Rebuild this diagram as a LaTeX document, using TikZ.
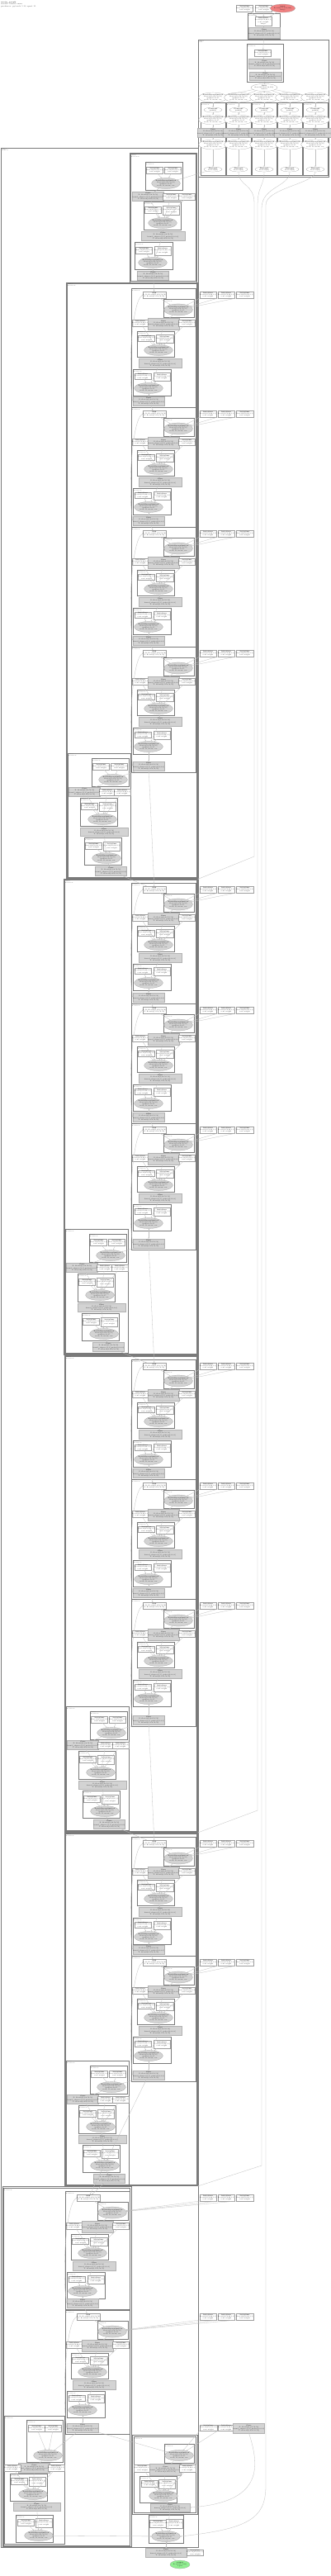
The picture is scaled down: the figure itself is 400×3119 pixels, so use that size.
\documentclass[tikz,border=0pt]{standalone}
\usepackage{fontspec}
\usetikzlibrary{shapes.geometric,arrows.meta}
\definecolor{lcoral}{RGB}{240,128,128}
\definecolor{lgreen}{RGB}{144,238,144}
\definecolor{ngray}{RGB}{211,211,211}
\tikzset{
 every node/.style={inner sep=0pt,outer sep=0pt,align=center,font=\fontsize{1.85}{2.25}\selectfont,text=black!85},
 wn/.style={draw=black!38,line width=0.2pt,fill=white,rectangle},
 gn/.style={draw=black!30,line width=0.2pt,fill=ngray,rectangle},
 ge/.style={draw=black!40,line width=0.2pt,fill=ngray,ellipse},
 we/.style={draw=black!40,line width=0.2pt,fill=white,ellipse},
 re/.style={draw=black!40,line width=0.2pt,fill=lcoral,ellipse},
 gre/.style={draw=black!40,line width=0.2pt,fill=lgreen,ellipse},
 clu/.style={draw=black!52,line width=0.45pt},
 lbl/.style={font=\fontsize{1.5}{1.9}\selectfont,align=left,text=black!70},
 ed/.style={draw=black!25,line width=0.3pt,-{Stealth[length=1.5pt,width=1.3pt]}},
}
\def\TW{\textbf{Initializer}\\ float32[256,64,1,1]\\ conv.weight}
\def\TG{\textbf{Conv}\\ X: float32[1,64,56,56]\\ kernel\_shape=[1,1] pads=[0,0,0,0]\\ Y: float32[1,256,56,56]}
\def\TE{\textbf{BatchNormalization}\\ float32[1,256,56,56]\\ epsilon=1e-05\\ scale, B, mean, var}
\def\TA{\textbf{Add}\\ A, B: float32[1,256,56,56]\\ C: float32[1,256,56,56]}
\def\TL{cluster\\ Bottleneck}
\newcommand\ND[7]{\node[#1,minimum width={(#5)*1pt-(#3)*1pt},minimum height={(#6)*1pt-(#4)*1pt}] (#2) at ({((#3)+(#5))/2},{((#4)+(#6))/2}) {#7};}
\newcommand\NE[7]{\node[#1,minimum width=#5pt,minimum height=#6pt] (#2) at (#3,#4) {#7};}
\newcommand\CL[5]{\draw[clu] (#1,#2) rectangle (#3,#4); \node[lbl,anchor=north west] at (#1+0.8,#2+0.6) {#5};}
\newcommand\SB[4]{\draw[clu] (#1,#2) rectangle (#3,#4); \draw[clu] (#1+1.2,#2+1.2) rectangle (#3-1.2,#4-1.2); \node[lbl,anchor=north west] at (#1+2,#2+1.8) {\TL};}
\newcommand\RBlock[4]{%
\begin{scope}[shift={(#2,#3)}]
\CL{159}{0}{237}{#4}{\TL}
\ND{wn}{#1T}{178}{4}{196}{12}{\TA}
\CL{198}{13}{235}{35}{\TL}
\NE{ge}{#1E1}{216}{26}{32}{14}{\TE}
\ND{wn}{#1W1}{162}{38}{178}{46}{\TW}
\ND{gn}{#1G1}{180}{36}{216}{50}{\TG}
\ND{wn}{#1W2}{218}{38}{235}{46}{\TW}
\CL{166}{52}{211}{83}{\TL}
\ND{wn}{#1W3}{168}{57}{187}{64}{\TW}
\ND{wn}{#1W4}{189}{56}{210}{66}{\TW}
\NE{ge}{#1E2}{192}{75}{34}{13}{\TE}
\ND{gn}{#1G2}{168}{85}{220}{96}{\TG}
\CL{161}{98}{207}{130}{\TL}
\ND{wn}{#1W5}{163}{103}{183}{110}{\TW}
\ND{wn}{#1W6}{186}{102}{206}{112}{\TW}
\NE{ge}{#1E3}{180}{121}{34}{13}{\TE}
\ND{gn}{#1G3}{162}{#4-13}{198}{#4-2}{\TG}
\end{scope}
\draw[ed] (#1T) -- (#1E1);
\draw[ed] (#1E1) -- (#1G1);
\draw[ed] (#1G1) -- (#1E2);
\draw[ed] (#1W1) -- (#1E2);
\draw[ed] (#1W2) -- (#1E2);
\draw[ed] (#1W3) -- (#1E2);
\draw[ed] (#1W4) -- (#1E2);
\draw[ed] (#1E2) -- (#1G2);
\draw[ed] (#1G2) -- (#1E3);
\draw[ed] (#1W5) -- (#1E3);
\draw[ed] (#1W6) -- (#1E3);
\draw[ed] (#1E3) -- (#1G3);
\draw[ed] (#1T.west) .. controls +(-14,6) and +(-6,-30) .. (#1G3.west);
}
\newcommand\Ext[2]{%
\ND{wn}{#1x1}{242}{#2+4}{262}{#2+12}{\TW}
\ND{wn}{#1x2}{264}{#2+4}{284}{#2+12}{\TW}
\ND{wn}{#1x3}{286}{#2+4}{307}{#2+12}{\TW}
\draw[ed] (#1x1.south west) -- (#1E1);
\draw[ed] (#1x2.south west) -- (#1E1);
\draw[ed] (#1x3.south west) -- (#1E1);}
\newcommand\DBlock[3]{%
\begin{scope}[shift={(#2,#3)}]
\CL{0}{0}{76}{150}{\TL}
\CL{29}{6}{74}{40}{\TL}
\ND{wn}{#1W1}{31}{12}{50}{20}{\TW}
\ND{wn}{#1W2}{53}{12}{72}{20}{\TW}
\NE{ge}{#1E1}{55}{32}{31}{13}{\TE}
\ND{gn}{#1G1}{3}{41}{38}{52}{\TG}
\ND{wn}{#1W3}{40}{43}{56}{51}{\TW}
\ND{wn}{#1W4}{58}{43}{74}{51}{\TW}
\CL{15}{54}{60}{88}{\TL}
\ND{wn}{#1W5}{17}{60}{36}{68}{\TW}
\ND{wn}{#1W6}{39}{59}{58}{70}{\TW}
\NE{ge}{#1E2}{42}{80}{33}{13}{\TE}
\ND{gn}{#1G2}{15}{90}{73}{100}{\TG}
\CL{20}{102}{65}{135}{\TL}
\ND{wn}{#1W7}{22}{108}{41}{116}{\TW}
\ND{wn}{#1W8}{44}{107}{63}{118}{\TW}
\NE{ge}{#1E3}{47}{127}{32}{13}{\TE}
\ND{gn}{#1G3}{35}{137}{70}{148}{\TG}
\end{scope}
\draw[ed] (#1W1) -- (#1E1);
\draw[ed] (#1W2) -- (#1E1);
\draw[ed] (#1E1) -- (#1G1);
\draw[ed] (#1G1) -- (#1E2);
\draw[ed] (#1W3) -- (#1E2);
\draw[ed] (#1W4) -- (#1E2);
\draw[ed] (#1W5) -- (#1E2);
\draw[ed] (#1W6) -- (#1E2);
\draw[ed] (#1E2) -- (#1G2);
\draw[ed] (#1G2) -- (#1E3);
\draw[ed] (#1W7) -- (#1E3);
\draw[ed] (#1W8) -- (#1E3);
\draw[ed] (#1E3) -- (#1G3);
}
\newcommand\Col[2]{%
\CL{#2-15}{124}{#2+15}{212}{\TL}
\NE{we}{#1a}{#2}{133}{22}{6}{\textbf{Constant}\\ int64[4]}
\NE{we}{#1b}{#2}{145}{25}{11}{\TE}
\ND{gn}{#1c}{#2-14}{155}{#2+14}{166}{\TG}
\NE{we}{#1d}{#2}{175}{25}{11}{\TE}
\NE{we}{#1e}{#2}{205}{22}{6}{\textbf{Reshape}\\ float32[64]}
\draw[ed] (#1a) -- (#1b);
\draw[ed] (#1b) -- (#1c);
\draw[ed] (#1c) -- (#1d);
\draw[ed] (#1d) -- (#1e);
}
\begin{document}
\begin{tikzpicture}[x=1pt,y=-1pt]
\useasboundingbox (0,0) rectangle (400,3119);
\fill[white] (0,0) rectangle (400,3119);
\node[lbl,anchor=north west,font=\fontsize{2.2}{2.8}\selectfont] (title) at (1.5,1.5) {\textbf{main\_graph}\\ model: resnet.onnx\\ producer: pytorch 1.13 opset 11};
% ---------- top ----------
\ND{wn}{t1}{287}{6}{306}{14}{\TW}
\ND{wn}{t2}{310}{6}{329}{14}{\TW}
\NE{re}{inp}{342.5}{10}{25}{10}{\textbf{input}\\ float32[1,3,224,224]\\ image}
\CL{300}{16}{339}{47}{\TL}
\ND{wn}{tw}{309}{20}{329}{31}{\TW\\ shape}
\ND{gn}{tg}{302}{33}{338}{46}{\TG}
\draw[ed] (t1) -- (tw);
\draw[ed] (t2) -- (tw);
\draw[ed] (inp) -- (tw);
\draw[ed] (tw) -- (tg);
\draw[clu,line width=0.6pt] (240,48) rectangle (398,214);
\node[lbl,anchor=north west] at (241,49) {cluster\\ stem};
\CL{299}{53}{343}{99}{\TL}
\ND{wn}{iw}{310}{60}{327}{68}{\TW}
\ND{gn}{ig1}{308}{71}{333}{83}{\TG}
\ND{gn}{ig2}{302}{87}{341}{97}{\TG}
\NE{we}{top}{320}{106}{26}{9}{\textbf{Split}\\ float32[1,64,112,112]\\ axis=0}
\draw[ed] (tg) -- (iw);
\draw[ed] (iw) -- (ig1);
\draw[ed] (ig1) -- (ig2);
\draw[ed] (ig2) -- (top);
\NE{we}{p1}{258}{118}{26}{8}{\TE}
\NE{we}{p2}{289}{118}{26}{8}{\TE}
\NE{we}{p3}{320}{118}{26}{8}{\TE}
\NE{we}{p4}{351}{118}{26}{8}{\TE}
\NE{we}{p5}{382}{118}{26}{8}{\TE}
\Col{k1}{258}
\Col{k2}{289}
\Col{k3}{320}
\Col{k4}{351}
\Col{k5}{382}
\foreach \i in {1,...,5}{\draw[ed] (top) -- (p\i); \draw[ed] (p\i) -- (k\i a);}
% ---------- big left box ----------
\draw[clu,line width=0.6pt] (1,179) rectangle (240.5,3084);
\node[lbl,anchor=north west] at (2,180) {cluster\\ backbone};
% box A
\draw[clu] (157,185) rectangle (238.5,341.8);
\draw[clu] (158.5,186.5) rectangle (237,340.3);
\node[lbl,anchor=north west] at (159.2,187.2) {\TL};
\CL{176}{196}{221}{230}{\TL}
\ND{wn}{AW1}{178}{202}{197}{210}{\TW}
\ND{wn}{AW2}{200}{202}{219}{210}{\TW}
\NE{ge}{AE1}{201}{222}{31}{13}{\TE}
\ND{gn}{AG1}{162}{232}{197}{243}{\TG}
\ND{wn}{AW3}{199}{234}{216}{242}{\TW}
\ND{wn}{AW4}{218}{234}{235}{242}{\TW}
\CL{174}{244}{219}{278}{\TL}
\ND{wn}{AW5}{176}{250}{195}{258}{\TW}
\ND{wn}{AW6}{198}{249}{217}{260}{\TW}
\NE{ge}{AE2}{197}{270}{33}{13}{\TE}
\ND{gn}{AG2}{171}{280}{224}{291}{\TG}
\CL{163}{293}{209}{326}{\TL}
\ND{wn}{AW7}{165}{299}{184}{307}{\TW}
\ND{wn}{AW8}{187}{298}{207}{309}{\TW}
\NE{ge}{AE3}{185}{318}{32}{13}{\TE}
\ND{gn}{AG3}{168}{328}{203}{339}{\TG}
\draw[ed] (AW1) -- (AE1); \draw[ed] (AW2) -- (AE1); \draw[ed] (AE1) -- (AG1);
\draw[ed] (AG1) -- (AE2); \draw[ed] (AW3) -- (AE2); \draw[ed] (AW4) -- (AE2);
\draw[ed] (AW5) -- (AE2); \draw[ed] (AW6) -- (AE2); \draw[ed] (AE2) -- (AG2);
\draw[ed] (AG2) -- (AE3); \draw[ed] (AW7) -- (AE3); \draw[ed] (AW8) -- (AE3);
\draw[ed] (AE3) -- (AG3);
% stage boxes
\SB{80}{342}{239.5}{1063.5}
\SB{77}{1064.5}{239.5}{1640}
\SB{78}{1641}{239.5}{2218}
\SB{78}{2219}{239.5}{2646.5}
\SB{3}{2647.5}{158.8}{3083}
% stage B
\RBlock{b1}{0}{349}{144} \Ext{b1}{349}
\RBlock{b2}{0}{493}{145} \Ext{b2}{493}
\RBlock{b3}{0}{638}{145} \Ext{b3}{638}
\RBlock{b4}{0}{783}{152} \Ext{b4}{783}
\DBlock{sB}{82}{912}
% stage C
\RBlock{c1}{0}{1069}{146} \Ext{c1}{1069}
\RBlock{c2}{0}{1215}{145} \Ext{c2}{1215}
\RBlock{c3}{0}{1360}{153} \Ext{c3}{1360}
\DBlock{sC}{79}{1488}
% stage D
\RBlock{d1}{0}{1646}{145} \Ext{d1}{1646}
\RBlock{d2}{0}{1791}{145} \Ext{d2}{1791}
\RBlock{d3}{0}{1936}{154} \Ext{d3}{1936}
\DBlock{sD}{80}{2066}
% stage E
\RBlock{e1}{0}{2224}{144} \Ext{e1}{2224}
\RBlock{e2}{0}{2368}{152} \Ext{e2}{2368}
\DBlock{sE}{80}{2495}
% stage F
\RBlock{f1}{-80}{2653}{143} \Ext{f1}{2653}
\RBlock{f2}{-80}{2797}{150} \Ext{f2}{2797}
% dsF
\CL{5}{2925}{78}{3080}{\TL}
\CL{32}{2930}{76}{2981}{\TL}
\ND{wn}{FW1}{36}{2936}{53}{2944}{\TW}
\ND{wn}{FW2}{55}{2936}{74}{2944}{\TW}
\NE{ge}{FE1}{58}{2973}{31}{13}{\TE}
\ND{gn}{FG1}{25}{2982}{58}{2994}{\TG}
\ND{wn}{FW3}{7}{2984}{23}{2992}{\TW}
\ND{wn}{FW4}{60}{2984}{76}{2992}{\TW}
\CL{12}{2995}{57}{3028}{\TL}
\ND{wn}{FW5}{14}{3000}{33}{3008}{\TW}
\ND{wn}{FW6}{35}{2999}{55}{3010}{\TW}
\NE{ge}{FE2}{40}{3020}{31}{13}{\TE}
\ND{gn}{FG2}{16}{3030}{73}{3040}{\TG}
\CL{19}{3045}{64}{3078}{\TL}
\ND{wn}{FW7}{22}{3050}{41}{3058}{\TW}
\ND{wn}{FW8}{44}{3049}{62}{3060}{\TW}
\NE{ge}{FE3}{47}{3070}{31}{13}{\TE}
\draw[ed] (FW1) -- (FE1); \draw[ed] (FW2) -- (FE1); \draw[ed] (FE1) -- (FG1);
\draw[ed] (FG1) -- (FE2); \draw[ed] (FW3) -- (FE2); \draw[ed] (FW4) -- (FE2);
\draw[ed] (FW5) -- (FE2); \draw[ed] (FW6) -- (FE2); \draw[ed] (FE2) -- (FG2);
\draw[ed] (FG2) -- (FE3); \draw[ed] (FW7) -- (FE3); \draw[ed] (FW8) -- (FE3);
% R box
\draw[clu] (160,2948) rectangle (239,3044);
\draw[clu] (161.8,2950) rectangle (237.4,3042.5);
\node[lbl,anchor=north west] at (162.5,2950.6) {\TL};
\CL{199}{2959}{235}{2982}{\TL}
\NE{ge}{RE1}{217}{2973}{32}{13}{\TE}
\ND{wn}{RW1}{163}{2984}{182}{2993}{\TW}
\ND{gn}{RG1}{184}{2983}{217}{2997}{\TG}
\ND{wn}{RW2}{219}{2984}{235}{2993}{\TW}
\CL{169}{2998}{214}{3030}{\TL}
\ND{wn}{RW3}{172}{3003}{190}{3011}{\TW}
\ND{wn}{RW4}{193}{3002}{212}{3013}{\TW}
\NE{ge}{RE2}{198}{3022}{30}{13}{\TE}
\ND{gn}{RG2}{182}{3031}{230}{3041}{\TG}
\ND{wn}{rx1}{242}{2936}{263}{2943}{\TW}
\ND{wn}{rx2}{264}{2936}{284}{2943}{\TW}
\ND{gn}{rx3}{285}{2934}{318}{2946}{\TG}
\draw[ed] (rx1.south west) -- (RE1); \draw[ed] (rx2.south west) -- (RE1);
\draw[ed] (RE1) -- (RG1); \draw[ed] (RG1) -- (RE2); \draw[ed] (RW1) -- (RE2);
\draw[ed] (RW2) -- (RE2); \draw[ed] (RW3) -- (RE2); \draw[ed] (RW4) -- (RE2);
\draw[ed] (RE2) -- (RG2);
% Q box
\CL{180}{3045}{222}{3079}{\TL}
\ND{wn}{QW1}{183}{3051}{200}{3060}{\TW}
\ND{wn}{QW2}{202}{3050}{220}{3061}{\TW}
\NE{ge}{QE}{201}{3071}{31}{13}{\TE}
\draw[ed] (QW1) -- (QE); \draw[ed] (QW2) -- (QE);
% bottom
\ND{gn}{BG}{176}{3085}{226}{3096}{\TG}
\ND{wn}{BW}{227}{3087}{246}{3094}{\TW}
\NE{gre}{out}{218}{3105}{24}{10}{\textbf{output}\\ float32[1,1000]\\ logits}
\draw[ed] (QE) -- (BG); \draw[ed] (RG2) -- (BG); \draw[ed] (BW) -- (BG);
\draw[ed] (BG) -- (out);
\draw[ed] (FE3) -- (QE);
% ---------- flow between blocks ----------
\draw[ed] (AG3) -- (b1T);
\draw[ed] (b1G3) -- (b2T); \draw[ed] (b2G3) -- (b3T); \draw[ed] (b3G3) -- (b4T);
\draw[ed] (b4G3) -- (sBE1); \draw[ed] (b4G3) -- (c1T); \draw[ed] (sBG3) -- (c1T);
\draw[ed] (c1G3) -- (c2T); \draw[ed] (c2G3) -- (c3T);
\draw[ed] (c3G3) -- (sCE1); \draw[ed] (c3G3) -- (d1T); \draw[ed] (sCG3) -- (d1T);
\draw[ed] (d1G3) -- (d2T); \draw[ed] (d2G3) -- (d3T);
\draw[ed] (d3G3) -- (sDE1); \draw[ed] (d3G3) -- (e1T); \draw[ed] (sDG3) -- (e1T);
\draw[ed] (e1G3) -- (e2T);
\draw[ed] (e2G3) -- (sEE1); \draw[ed] (e2G3) -- (f1T); \draw[ed] (sEG3) -- (f1T);
\draw[ed] (f1G3) -- (f2T);
\draw[ed] (f2G3) -- (FE1); \draw[ed] (f2G3) -- (RE1);
% ---------- long connectors ----------
\coordinate (Cin) at (239.5,1064.5);
\coordinate (Ein) at (239.5,2219);
\coordinate (Fin) at (239.5,2647);
\draw[ed] (k1e) -- (AE1);
\draw[ed] (k2e.south) .. controls (289,226) and (308,222) .. (308,246) -- (308,1037) -- (Cin);
\draw[ed] (k3e.south) .. controls (320,226) and (312,224) .. (312,250) -- (312,2192) -- (Ein);
\draw[ed] (k4e.south) .. controls (351,226) and (317,226) .. (317,252) -- (317,2622) -- (Fin);
\draw[ed] (k5e.south) .. controls (382,222) and (322,228) .. (322,248) -- (322,3010) .. controls (322,3050) and (300,3062) .. (QE.east);
\draw[ed] (rx3.south) .. controls (316,2990) and (316,3030) .. (RG2.east);
\end{tikzpicture}
\end{document}
